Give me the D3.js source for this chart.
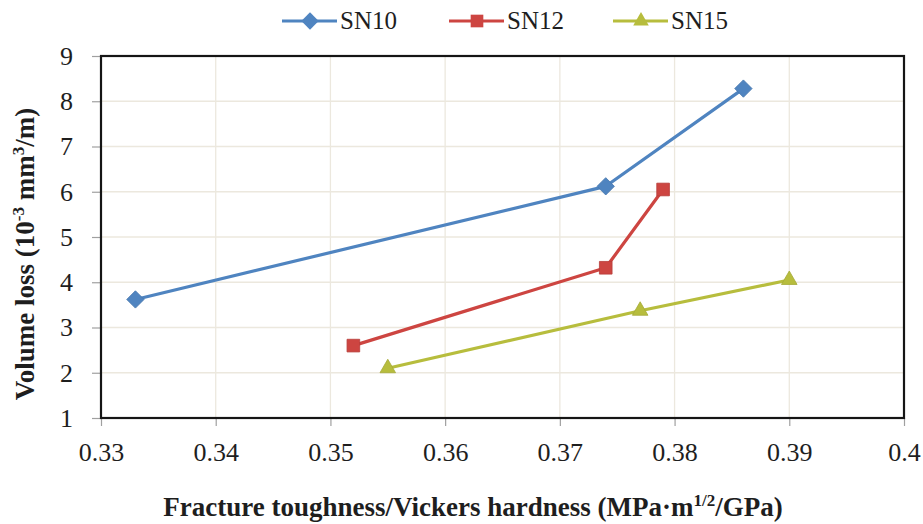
<!DOCTYPE html>
<html>
<head>
<meta charset="utf-8">
<script src="https://cdn.jsdelivr.net/npm/d3@7"></script>
<style>
  html, body { margin: 0; padding: 0; background: #fff; }
  svg { display: block; }
  text { font-family: "Liberation Serif", "Times New Roman", serif; }
</style>
</head>
<body>
<svg id="chart" width="923" height="524"></svg>
<script>
// Volume loss versus fracture toughness / Vickers hardness ratio
const seriesNames = ["SN10", "SN12", "SN15"];
const seriesColors = ["#4f84c0", "#cd4541", "#b7bd3d"];
const sn10X = [0.333, 0.374, 0.386];
const sn10Y = [3.62, 6.12, 8.28];
const sn12X = [0.352, 0.374, 0.379];
const sn12Y = [2.60, 4.32, 6.05];
const sn15X = [0.355, 0.377, 0.390];
const sn15Y = [2.10, 3.37, 4.05];
const xTicks = [0.33, 0.34, 0.35, 0.36, 0.37, 0.38, 0.39, 0.4];
const yTicks = [1, 2, 3, 4, 5, 6, 7, 8, 9];

const series = [
  { name: seriesNames[0], color: seriesColors[0], shape: "diamond", pts: sn10X.map((x, i) => ({ x, y: sn10Y[i] })) },
  { name: seriesNames[1], color: seriesColors[1], shape: "square", pts: sn12X.map((x, i) => ({ x, y: sn12Y[i] })) },
  { name: seriesNames[2], color: seriesColors[2], shape: "triangle", pts: sn15X.map((x, i) => ({ x, y: sn15Y[i] })) }
];

const svg = d3.select("#chart");
const plot = { left: 101, right: 904, top: 56, bottom: 418 };
const serif = "'Liberation Serif', 'Times New Roman', serif";

const x = d3.scaleLinear().domain([0.33, 0.4]).range([plot.left, plot.right]);
const y = d3.scaleLinear().domain([1, 9]).range([plot.bottom, plot.top]);

// gridlines
svg.append("g").selectAll("line").data(yTicks).join("line")
  .attr("x1", plot.left).attr("x2", plot.right)
  .attr("y1", d => y(d)).attr("y2", d => y(d))
  .attr("stroke", "#ece8de").attr("stroke-width", 1.3);
svg.append("g").selectAll("line").data(xTicks).join("line")
  .attr("x1", d => x(d)).attr("x2", d => x(d))
  .attr("y1", plot.top).attr("y2", plot.bottom)
  .attr("stroke", "#ece8de").attr("stroke-width", 1.3);

// axes
const xAxis = d3.axisBottom(x).tickValues(xTicks).tickSize(8).tickPadding(17)
  .tickFormat(d => String(+d.toFixed(2)));
const yAxis = d3.axisLeft(y).tickValues(yTicks).tickSize(9).tickPadding(19);

const gx = svg.append("g").attr("transform", `translate(0,${plot.bottom})`).call(xAxis);
const gy = svg.append("g").attr("transform", `translate(${plot.left},0)`).call(yAxis);
[gx, gy].forEach(g => {
  g.attr("font-family", null).attr("font-size", null);
  g.select(".domain").remove();
  g.selectAll(".tick line").attr("stroke", "#a0a0a0").attr("stroke-width", 1.2);
  g.selectAll(".tick text").attr("fill", "#1e1e1e")
    .style("font-size", "26px").style("font-family", serif);
});

// plot frame
svg.append("rect")
  .attr("x", plot.left).attr("y", plot.top)
  .attr("width", plot.right - plot.left).attr("height", plot.bottom - plot.top)
  .attr("fill", "none").attr("stroke", "#151515").attr("stroke-width", 2.2);

// marker shapes
const markerPath = shape => {
  if (shape === "diamond") return d3.symbol().type(d3.symbolSquare).size(150)();
  if (shape === "square") return d3.symbol().type(d3.symbolSquare).size(160)();
  return d3.symbol().type(d3.symbolTriangle).size(105)();
};
const markerRotate = shape => shape === "diamond" ? " rotate(45)" : "";

const line = d3.line().x(d => x(d.x)).y(d => y(d.y));
series.forEach(s => {
  svg.append("path").datum(s.pts).attr("d", line)
    .attr("fill", "none").attr("stroke", s.color).attr("stroke-width", 3.2)
    .attr("stroke-linejoin", "round");
  svg.append("g").selectAll("path").data(s.pts).join("path")
    .attr("transform", d => `translate(${x(d.x)},${y(d.y)})${markerRotate(s.shape)}`)
    .attr("d", markerPath(s.shape))
    .attr("fill", s.color).attr("stroke", d3.color(s.color).darker(0.3)).attr("stroke-width", 0.8);
});

// legend
const legendX = [282, 449, 613];
series.forEach((s, i) => {
  const g = svg.append("g").attr("transform", `translate(${legendX[i]},21)`);
  g.append("line").attr("x1", 0).attr("x2", 55).attr("y1", 0).attr("y2", 0)
    .attr("stroke", s.color).attr("stroke-width", 3.2);
  g.append("path").attr("transform", `translate(28,0)${markerRotate(s.shape)}`)
    .attr("d", markerPath(s.shape))
    .attr("fill", s.color);
  g.append("text").attr("x", 58).attr("y", 8).style("font-size", "25px").attr("fill", "#1e1e1e")
    .text(s.name);
});

// axis titles
const xt = svg.append("text").attr("x", 473).attr("y", 516)
  .attr("text-anchor", "middle").style("font-size", "27px").style("font-weight", "bold").attr("fill", "#1e1e1e");
xt.append("tspan").text("Fracture toughness/Vickers hardness (MPa·m");
xt.append("tspan").attr("dy", -10).style("font-size", "17px").text("1/2");
xt.append("tspan").attr("dy", 10).text("/GPa)");

const yt = svg.append("text")
  .attr("transform", "translate(34,254) rotate(-90)")
  .attr("text-anchor", "middle").style("font-size", "27px").style("font-weight", "bold").attr("fill", "#1e1e1e");
yt.append("tspan").text("Volume loss (10");
yt.append("tspan").attr("dy", -10).style("font-size", "17px").text("-3");
yt.append("tspan").attr("dy", 10).text(" mm");
yt.append("tspan").attr("dy", -10).style("font-size", "17px").text("3");
yt.append("tspan").attr("dy", 10).text("/m)");
</script>
</body>
</html>
